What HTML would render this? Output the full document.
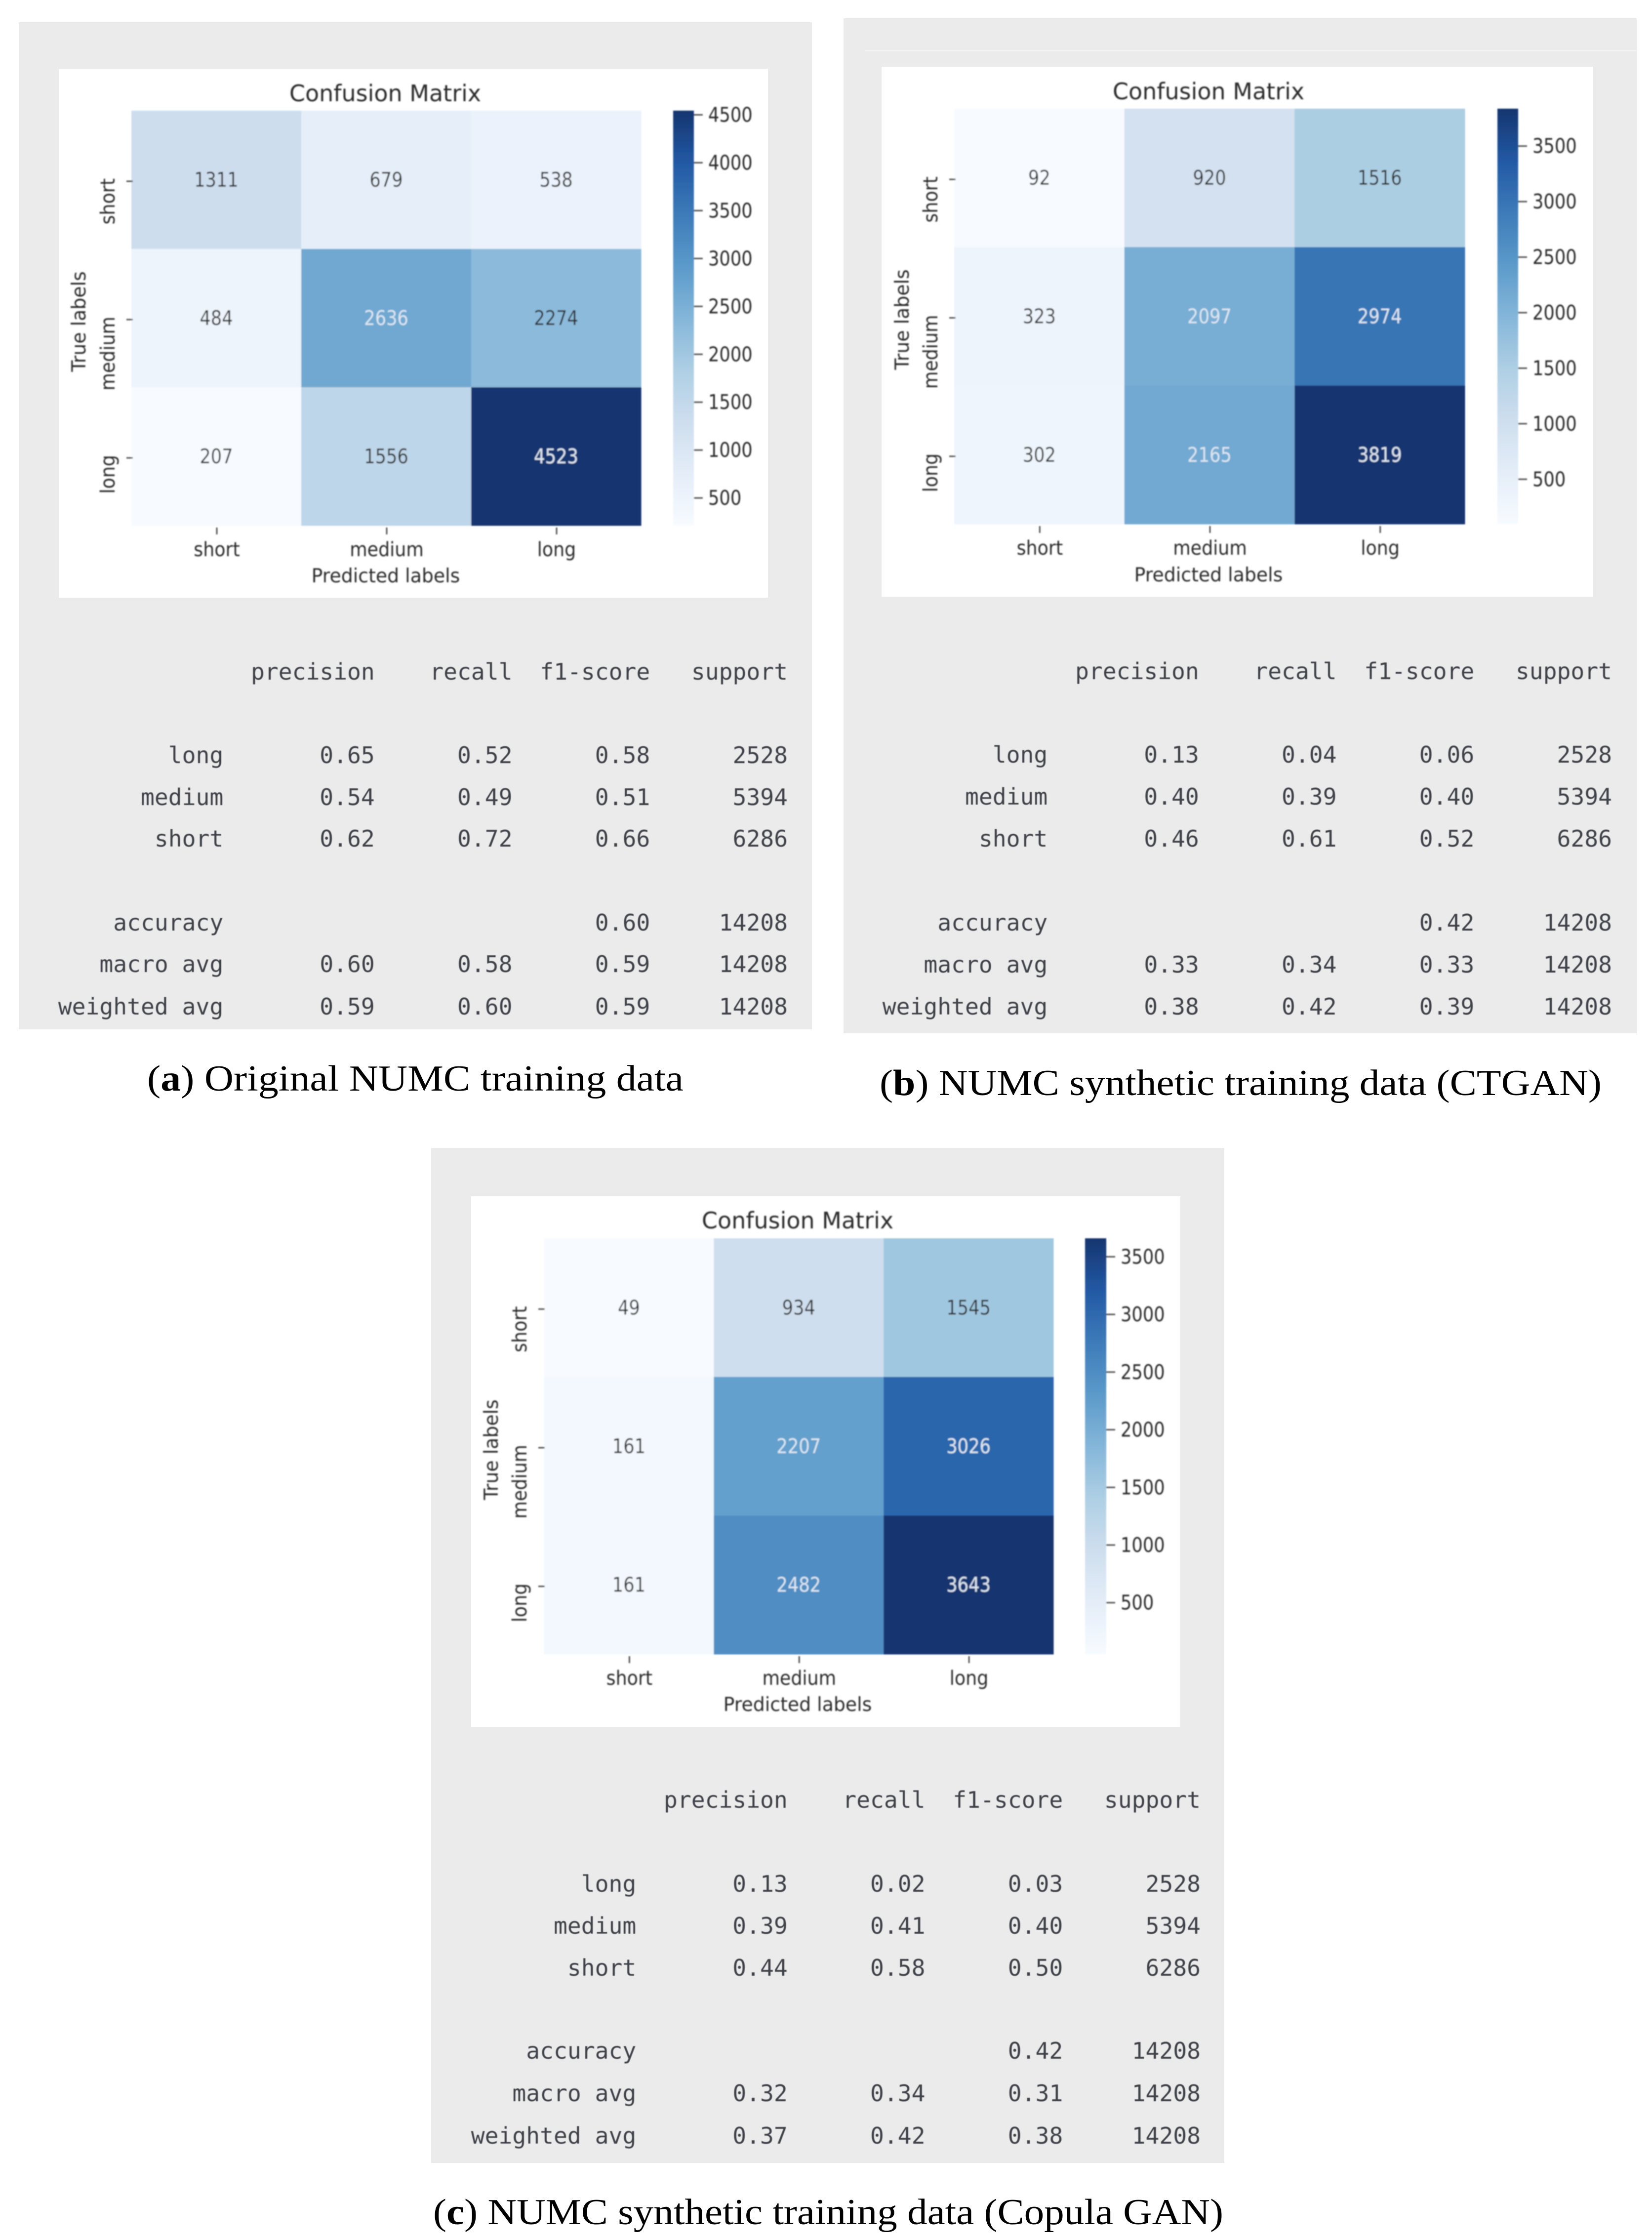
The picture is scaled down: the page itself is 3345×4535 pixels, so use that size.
<!DOCTYPE html>
<html lang="en">
<head>
<meta charset="utf-8">
<title>NUMC confusion matrices and classification reports</title>
<style>
html,body{margin:0;padding:0;background:#fff;width:3345px;height:4535px;overflow:hidden}
svg{display:block}
.mono{font-family:"DejaVu Sans Mono","Liberation Mono",monospace;font-size:46.3px;fill:#3f4249;white-space:pre;text-anchor:end;filter:url(#soft)}
.plot-text{font-family:"DejaVu Sans","Liberation Sans",sans-serif;fill:#2c2c2c}
.cap{font-family:"Liberation Serif",serif;font-size:74px;fill:#000}
</style>
</head>
<body>
<svg xmlns="http://www.w3.org/2000/svg" width="3345" height="4535" viewBox="0 0 3345 4535">
<defs>
<filter id="soft" x="-5%" y="-30%" width="110%" height="160%"><feGaussianBlur stdDeviation="0.9"/></filter>
<filter id="softer" x="-5%" y="-5%" width="110%" height="110%"><feGaussianBlur stdDeviation="1.3"/></filter>
<linearGradient id="cbar-gradient" x1="0" y1="1" x2="0" y2="0"></linearGradient>
</defs>
<rect width="3345" height="4535" fill="#fff"/>

<!-- Panel a -->
<g>
<rect x="38" y="45" width="1606" height="2039" fill="#ebebeb"/>
<rect x="119" y="139" width="1436" height="1071" fill="#fff"/>
<g id="plot-a" filter="url(#softer)">
<text class="plot-text" x="780" y="205" font-size="46" text-anchor="middle">Confusion Matrix</text>
<text class="plot-text" transform="translate(781,1179) scale(0.97,1)" font-size="39" text-anchor="middle">Predicted labels</text>
<text class="plot-text" transform="translate(173,651) rotate(-90) scale(0.97,1)" font-size="39" text-anchor="middle">True labels</text>
</g>
<g>
<text class="mono" x="1595" y="1376" xml:space="preserve">  precision    recall  f1-score   support</text>
<text class="mono" x="1595" y="1545" xml:space="preserve">long       0.65      0.52      0.58      2528</text>
<text class="mono" x="1595" y="1630" xml:space="preserve">medium       0.54      0.49      0.51      5394</text>
<text class="mono" x="1595" y="1714" xml:space="preserve">short       0.62      0.72      0.66      6286</text>
<text class="mono" x="1595" y="1884" xml:space="preserve">accuracy                           0.60     14208</text>
<text class="mono" x="1595" y="1968" xml:space="preserve">macro avg       0.60      0.58      0.59     14208</text>
<text class="mono" x="1595" y="2054" xml:space="preserve">weighted avg       0.59      0.60      0.59     14208</text>
</g>
</g>
<text class="cap" x="298" y="2208" textLength="1086" lengthAdjust="spacingAndGlyphs">(<tspan font-weight="bold">a</tspan>) Original NUMC training data</text>

<!-- Panel b -->
<g>
<rect x="1708" y="37" width="1606" height="2055" fill="#ebebeb"/>
<rect x="1752" y="102" width="1562" height="2" fill="#f5f5f5"/>
<rect x="1785" y="135" width="1440" height="1073" fill="#fff"/>
<g id="plot-b" filter="url(#softer)">
<text class="plot-text" x="2447" y="201" font-size="46" text-anchor="middle">Confusion Matrix</text>
<text class="plot-text" transform="translate(2447,1177) scale(0.97,1)" font-size="39" text-anchor="middle">Predicted labels</text>
<text class="plot-text" transform="translate(1840,647) rotate(-90) scale(0.97,1)" font-size="39" text-anchor="middle">True labels</text>
</g>
<g>
<text class="mono" x="3264" y="1375" xml:space="preserve">  precision    recall  f1-score   support</text>
<text class="mono" x="3264" y="1544" xml:space="preserve">long       0.13      0.04      0.06      2528</text>
<text class="mono" x="3264" y="1629" xml:space="preserve">medium       0.40      0.39      0.40      5394</text>
<text class="mono" x="3264" y="1714" xml:space="preserve">short       0.46      0.61      0.52      6286</text>
<text class="mono" x="3264" y="1884" xml:space="preserve">accuracy                           0.42     14208</text>
<text class="mono" x="3264" y="1969" xml:space="preserve">macro avg       0.33      0.34      0.33     14208</text>
<text class="mono" x="3264" y="2054" xml:space="preserve">weighted avg       0.38      0.42      0.39     14208</text>
</g>
</g>
<text class="cap" x="1781" y="2217" textLength="1462" lengthAdjust="spacingAndGlyphs">(<tspan font-weight="bold">b</tspan>) NUMC synthetic training data (CTGAN)</text>

<!-- Panel c -->
<g>
<rect x="873" y="2324" width="1606" height="2055" fill="#ebebeb"/>
<rect x="954" y="2422" width="1436" height="1074" fill="#fff"/>
<g id="plot-c" filter="url(#softer)">
<text class="plot-text" x="1615" y="2487" font-size="46" text-anchor="middle">Confusion Matrix</text>
<text class="plot-text" transform="translate(1615,3464) scale(0.97,1)" font-size="39" text-anchor="middle">Predicted labels</text>
<text class="plot-text" transform="translate(1008,2935) rotate(-90) scale(0.97,1)" font-size="39" text-anchor="middle">True labels</text>
</g>
<g>
<text class="mono" x="2431" y="3660" xml:space="preserve">  precision    recall  f1-score   support</text>
<text class="mono" x="2431" y="3830" xml:space="preserve">long       0.13      0.02      0.03      2528</text>
<text class="mono" x="2431" y="3915" xml:space="preserve">medium       0.39      0.41      0.40      5394</text>
<text class="mono" x="2431" y="4000" xml:space="preserve">short       0.44      0.58      0.50      6286</text>
<text class="mono" x="2431" y="4168" xml:space="preserve">accuracy                           0.42     14208</text>
<text class="mono" x="2431" y="4254" xml:space="preserve">macro avg       0.32      0.34      0.31     14208</text>
<text class="mono" x="2431" y="4340" xml:space="preserve">weighted avg       0.37      0.42      0.38     14208</text>
</g>
</g>
<text class="cap" x="877" y="4503" textLength="1600" lengthAdjust="spacingAndGlyphs">(<tspan font-weight="bold">c</tspan>) NUMC synthetic training data (Copula GAN)</text>
</svg>

<script>
const categories = ['short', 'medium', 'long'];
const valuesA = [[1311, 679, 538], [484, 2636, 2274], [207, 1556, 4523]];
const valuesB = [[92, 920, 1516], [323, 2097, 2974], [302, 2165, 3819]];
const valuesC = [[49, 934, 1545], [161, 2207, 3026], [161, 2482, 3643]];
const colorbarTicksA = [500, 1000, 1500, 2000, 2500, 3000, 3500, 4000, 4500];
const colorbarTicksB = [500, 1000, 1500, 2000, 2500, 3000, 3500];
const colorbarTicksC = [500, 1000, 1500, 2000, 2500, 3000, 3500];
const colormapStops = ['#f7fbff', '#e4edf8', '#cedeee', '#aecfe4', '#84b6d9', '#5b9aca', '#3d7bb9', '#2259a4', '#15356f'];

const SVG_NS = 'http://www.w3.org/2000/svg';

const layoutA = {id: 'a', left: 266, top: 224, width: 1032, height: 840, barLeft: 1363, barWidth: 42, yTickShift: 3, yLabelX: 232, yTickX: 256};
const layoutB = {id: 'b', left: 1932, top: 220, width: 1034, height: 841, barLeft: 3032, barWidth: 42, yTickShift: 3, yLabelX: 1898, yTickX: 1922};
const layoutC = {id: 'c', left: 1101.5, top: 2507, width: 1031.5, height: 842, barLeft: 2197, barWidth: 43, yTickShift: 3, yLabelX: 1066, yTickX: 1090};

function hexToRgb(hex) {
  return [1, 3, 5].map(function (i) { return parseInt(hex.slice(i, i + 2), 16); });
}

function colorAt(t) {
  const clamped = Math.max(0, Math.min(1, t));
  const pos = clamped * (colormapStops.length - 1);
  const i = Math.min(Math.floor(pos), colormapStops.length - 2);
  const f = pos - i;
  const a = hexToRgb(colormapStops[i]);
  const b = hexToRgb(colormapStops[i + 1]);
  const mix = a.map(function (c, k) { return Math.round(c + (b[k] - c) * f); });
  return 'rgb(' + mix.join(',') + ')';
}

function makeText(parent, str, x, y, size, scaleX, anchor, rotate, fill) {
  const el = document.createElementNS(SVG_NS, 'text');
  el.setAttribute('class', 'plot-text');
  el.setAttribute('font-size', size);
  el.setAttribute('text-anchor', anchor);
  el.setAttribute('transform', 'translate(' + x + ',' + y + ')' + (rotate ? ' rotate(' + rotate + ')' : '') + ' scale(' + scaleX + ',1)');
  if (fill) { el.style.fill = fill; }
  el.textContent = str;
  parent.appendChild(el);
  return el;
}

function makeRect(parent, x, y, w, h, fill) {
  const el = document.createElementNS(SVG_NS, 'rect');
  el.setAttribute('x', x);
  el.setAttribute('y', y);
  el.setAttribute('width', w);
  el.setAttribute('height', h);
  el.setAttribute('fill', fill);
  parent.appendChild(el);
  return el;
}

function drawPlot(layout, values, colorbarTicks) {
  const group = document.getElementById('plot-' + layout.id);
  const flat = values.reduce(function (acc, row) { return acc.concat(row); }, []);
  const vmin = Math.min.apply(null, flat);
  const vmax = Math.max.apply(null, flat);
  const norm = function (v) { return (v - vmin) / (vmax - vmin); };
  const bandX = layout.width / categories.length;
  const bandY = layout.height / categories.length;
  const xScale = function (i) { return layout.left + i * bandX; };
  const yScale = function (i) { return layout.top + i * bandY; };
  const barY = function (v) { return layout.top + 4 + (1 - norm(v)) * (layout.height - 3); };

  values.forEach(function (row, r) {
    row.forEach(function (value, c) {
      const cell = makeRect(group, xScale(c), yScale(r), bandX + 0.5, bandY + 0.5, colorAt(norm(value)));
      
      
    });
  });

  values.forEach(function (row, r) {
    row.forEach(function (value, c) {
      const light = norm(value) > 0.52;
      const label = makeText(group, String(value), xScale(c) + bandX / 2, yScale(r) + bandY / 2 + 14, 41, 0.86, 'middle', 0, light ? '#dde6f1' : '#2e2e2e');
      
      
    });
  });

  categories.forEach(function (name, i) {
    const tickX = xScale(i) + bandX / 2 + 1;
    const xTick = makeRect(group, tickX - 1.5, layout.top + layout.height + 4, 3, 14, '#555');
    
    
    const xLabel = makeText(group, name, tickX, layout.top + layout.height + 62, 40, 0.91, 'middle', 0);
    
    

    const tickY = yScale(i) + bandY / 2 + layout.yTickShift;
    const yTick = makeRect(group, layout.yTickX, tickY - 1.5, 13, 3, '#555');
    
    
    const yLabel = makeText(group, name, layout.yLabelX, tickY - 6, 40, 0.91, 'end', -90);
    
    
  });

  const bar = makeRect(group, layout.barLeft, layout.top, layout.barWidth, layout.height, 'url(#cbar-gradient)');
  
  

  colorbarTicks.forEach(function (tick) {
    const y = barY(tick);
    const mark = makeRect(group, layout.barLeft + layout.barWidth, y - 1.5, 18, 3, '#555');
    
    
    const label = makeText(group, String(tick), layout.barLeft + layout.barWidth + 29, y + 14, 41, 0.86, 'start', 0);
    
    
  });

  const title = group.querySelectorAll('text')[0];
  group.appendChild(title);
}

const gradient = document.getElementById('cbar-gradient');
colormapStops.forEach(function (color, i) {
  const stop = document.createElementNS(SVG_NS, 'stop');
  stop.setAttribute('offset', i / (colormapStops.length - 1));
  stop.setAttribute('stop-color', color);
  gradient.appendChild(stop);
});

drawPlot(layoutA, valuesA, colorbarTicksA);
drawPlot(layoutB, valuesB, colorbarTicksB);
drawPlot(layoutC, valuesC, colorbarTicksC);
</script>
</body>
</html>
